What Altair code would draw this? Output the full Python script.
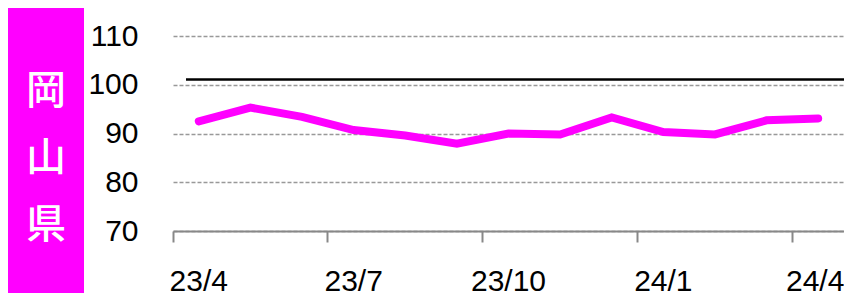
import altair as alt
import pandas as pd

# ---- data ----
months = ["23/4", "23/5", "23/6", "23/7", "23/8", "23/9", "23/10",
          "23/11", "23/12", "24/1", "24/2", "24/3", "24/4"]
values = [92.5, 95.3, 93.4, 90.7, 89.6, 87.9, 90.0,
          89.8, 93.3, 90.3, 89.8, 92.7, 93.1]
label_months = ["23/4", "23/7", "23/10", "24/1", "24/4"]
y_ticks = [70, 80, 90, 100, 110]
ref_value = [101.1]
title_text = ["岡\n山\n県"]

W, H = 671, 195
FONT = "Liberation Sans"

df = pd.DataFrame({"month": months, "value": values})
ref_df = pd.DataFrame({"ref": ref_value})
title_df = pd.DataFrame({"t": title_text})

y_scale = alt.Scale(domain=[70, 110])
y_axis = alt.Axis(values=y_ticks, title=None, domain=False, ticks=False,
                  labelPadding=35, labelFontSize=30, labelFont=FONT,
                  labelColor="#000000", grid=True, gridDash=[4, 2],
                  gridColor="#999999", gridWidth=1.5)

x_enc = alt.X("month:N", sort=months,
              scale=alt.Scale(type="band", paddingInner=0, paddingOuter=0),
              axis=alt.Axis(values=label_months, title=None, labelAngle=0,
                            bandPosition=0, tickExtra=False,
                            labelOffset=alt.expr("datum.value == '24/4' ? -3 : 0"),
                            labelFontSize=30,
                            labelFont=FONT, labelColor="#000000",
                            labelPadding=24, tickSize=11, tickColor="#888888",
                            tickWidth=2, domainColor="#888888",
                            domainWidth=2, grid=False))

box = alt.Chart(title_df).mark_rect(color="#FF00FF").encode(
    x=alt.value(-165), x2=alt.value(-89),
    y=alt.value(-28), y2=alt.value(257),
)

title = alt.Chart(title_df).mark_text(
    color="white", font="Noto Sans CJK JP", fontSize=40, fontWeight=500,
    lineBreak="\n", lineHeight=67, align="center", baseline="middle",
).encode(
    x=alt.value(-127), y=alt.value(56), text="t:N"
)

ref = alt.Chart(ref_df).mark_rule(color="#000000", strokeWidth=2.5).encode(
    y=alt.Y("ref:Q", scale=y_scale, axis=y_axis),
    x=alt.value(13), x2=alt.value(W),
)

line = alt.Chart(df).mark_line(
    color="#FF00FF", strokeWidth=8, strokeCap="round", strokeJoin="miter"
).encode(
    x=x_enc,
    y=alt.Y("value:Q", scale=y_scale, axis=y_axis),
)

chart = alt.layer(box, title, ref, line).properties(
    width=W, height=H,
    autosize=alt.AutoSizeParams(type="none"),
    padding={"left": 165, "top": 28, "right": 0, "bottom": 70},
    background="white",
).configure_view(stroke=None)

chart.save("out.html", embed_options={"renderer": "svg", "actions": False})
